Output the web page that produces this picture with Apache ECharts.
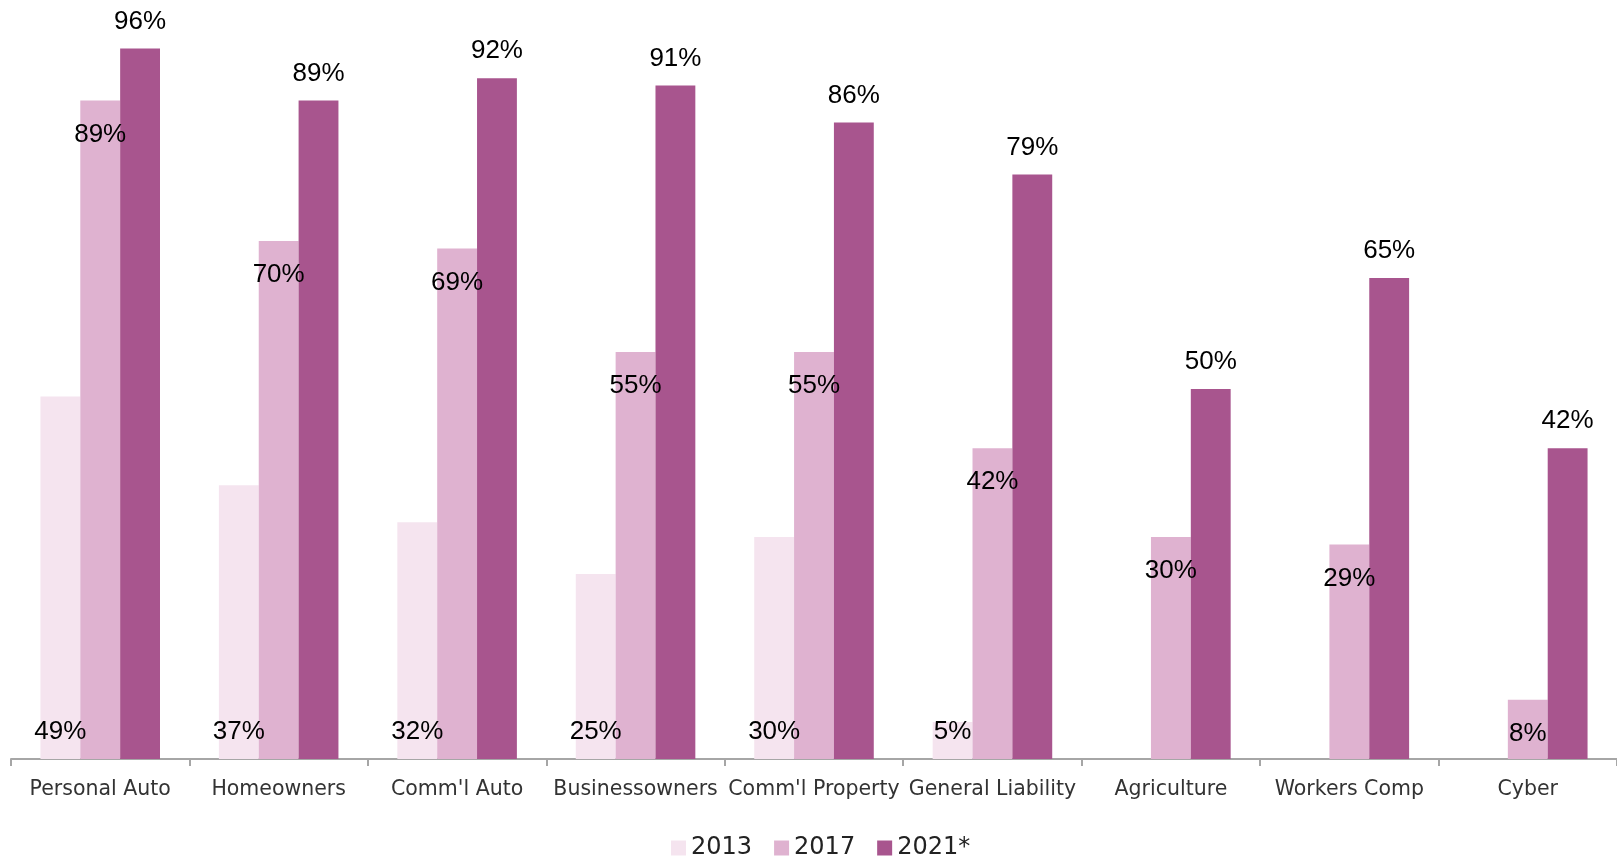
<!DOCTYPE html>
<html>
<head>
<meta charset="utf-8">
<style>
  html, body { margin: 0; padding: 0; background: #ffffff; }
  #chart { width: 1617px; height: 859px; }
</style>
<script src="https://cdn.jsdelivr.net/npm/echarts@6/dist/echarts.min.js"></script>
</head>
<body>
<div id="chart"></div>
<script>
// Lines of business
const categories = ['Personal Auto', 'Homeowners', "Comm'l Auto", 'Businessowners', "Comm'l Property",
  'General Liability', 'Agriculture', 'Workers Comp', 'Cyber'];

// Share (%) by survey year; '-' means no value for that year
const years = ['2013', '2017', '2021*'];
const values2013 = [49, 37, 32, 25, 30, 5, '-', '-', '-'];
const values2017 = [89, 70, 69, 55, 55, 42, 30, 29, 8];
const values2021 = [96, 89, 92, 91, 86, 79, 50, 65, 42];

const colors = ['#f5e4ef', '#dfb2d0', '#a8558e'];
const labelFont = { fontFamily: 'Liberation Sans, Arial, sans-serif', fontSize: 26, color: '#000000' };
const axisFont = 'DejaVu Sans, sans-serif';

const pct = p => p.value + '%';

const chart = echarts.init(document.getElementById('chart'), null, { renderer: 'canvas' });
chart.setOption({
  animation: false,
  backgroundColor: '#ffffff',
  color: colors,
  grid: { left: 11, right: -1, top: 19, bottom: 100, containLabel: false },
  legend: {
    data: years,
    top: 836,
    left: 671,
    padding: 0,
    itemWidth: 15,
    itemHeight: 15,
    itemGap: 22,
    icon: 'rect',
    textStyle: { fontFamily: axisFont, fontSize: 24, color: '#222222' }
  },
  xAxis: {
    type: 'category',
    data: categories,
    axisLine: { lineStyle: { color: '#a6a6a6', width: 2 } },
    axisTick: { show: true, alignWithLabel: false, length: 7, lineStyle: { color: '#a6a6a6', width: 2 } },
    axisLabel: { fontFamily: axisFont, fontSize: 20.5, color: '#333333', margin: 20, interval: 0 }
  },
  yAxis: {
    type: 'value',
    min: 0,
    max: 100,
    show: false,
    splitLine: { show: false }
  },
  series: [
    {
      name: years[0], type: 'bar', data: values2013,
      barGap: '0%', barCategoryGap: '33%',
      label: { show: true, position: 'insideBottom', distance: 14, formatter: pct, ...labelFont }
    },
    {
      name: years[1], type: 'bar', data: values2017,
      barGap: '0%', barCategoryGap: '33%',
      label: { show: true, position: 'insideTop', distance: 21, formatter: pct, ...labelFont }
    },
    {
      name: years[2], type: 'bar', data: values2021,
      barGap: '0%', barCategoryGap: '33%',
      label: { show: true, position: 'top', distance: 14, formatter: pct, ...labelFont }
    }
  ]
});
</script>
</body>
</html>
